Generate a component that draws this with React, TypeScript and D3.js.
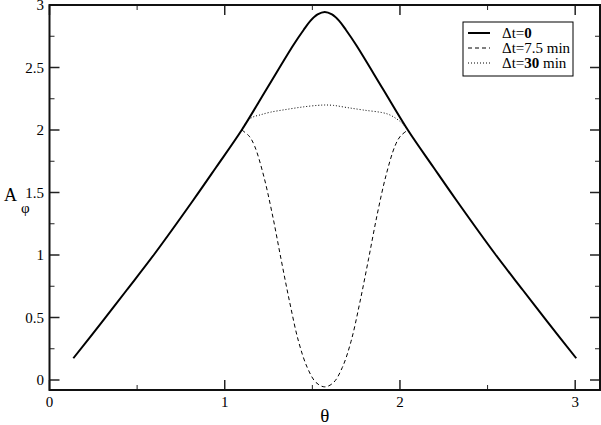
import React from "react";
import * as d3 from "d3";

const thetaSolid = [0.136, 0.3, 0.441, 0.6, 0.821, 0.95, 1.097, 1.24, 1.392, 1.45, 1.49, 1.53, 1.571, 1.612, 1.652, 1.692, 1.75, 1.902, 2.045, 2.192, 2.321, 2.542, 2.701, 2.842, 3.006];
const aSolid = [0.174, 0.465, 0.72, 1.01, 1.44, 1.7, 2.0, 2.33, 2.68, 2.8, 2.875, 2.925, 2.945, 2.925, 2.875, 2.8, 2.68, 2.33, 2.0, 1.7, 1.44, 1.01, 0.72, 0.465, 0.174];

const thetaDashed = [1.097, 1.14, 1.171, 1.221, 1.271, 1.321, 1.371, 1.421, 1.471, 1.521, 1.571, 1.621, 1.671, 1.721, 1.771, 1.821, 1.871, 1.921, 1.971, 2.002, 2.045];
const aDashed = [2.0, 1.95, 1.87, 1.64, 1.33, 0.97, 0.62, 0.31, 0.1, -0.02, -0.055, -0.02, 0.1, 0.31, 0.62, 0.97, 1.33, 1.64, 1.87, 1.95, 2.0];

const thetaDotted = [1.097, 1.126, 1.163, 1.2, 1.259, 1.354, 1.449, 1.53, 1.571, 1.62, 1.696, 1.79, 1.925, 1.98, 2.015, 2.045];
const aDotted = [2.0, 2.07, 2.105, 2.12, 2.142, 2.165, 2.185, 2.197, 2.2, 2.197, 2.18, 2.16, 2.13, 2.09, 2.05, 2.0];

const xMajor = [0, 1, 2, 3];
const xMinor = [0.5, 1.5, 2.5];
const yMajor = [0, 0.5, 1, 1.5, 2, 2.5, 3];
const yMinor = [0.25, 0.75, 1.25, 1.75, 2.25, 2.75];

const legendLabels = [
  { pre: "\u0394t=", bold: "0", post: "", dash: "none", w: 2 },
  { pre: "\u0394t=7.5 min", bold: "", post: "", dash: "4,3", w: 1 },
  { pre: "\u0394t=", bold: "30", post: " min", dash: "1,2", w: 1 },
];

export default function App() {
  const W = 601, H = 425;
  const left = 49.5, right = 600, top = 5, bottom = 390;
  const x = d3.scaleLinear().domain([0, Math.PI]).range([left, right]);
  const y = d3.scaleLinear().domain([-0.08, 3]).range([bottom, top]);
  const line = d3
    .line<[number, number]>()
    .x((d) => x(d[0]))
    .y((d) => y(d[1]))
    .curve(d3.curveCatmullRom.alpha(0.5));
  const solid = line(thetaSolid.map((t, i) => [t, aSolid[i]]));
  const dashed = line(thetaDashed.map((t, i) => [t, aDashed[i]]));
  const dotted = line(thetaDotted.map((t, i) => [t, aDotted[i]]));
  const font = '"Liberation Serif", "Times New Roman", serif';
  const tickColor = "#222";
  return (
    <svg width={W} height={H} style={{ position: "fixed", left: 0, top: 0, fontFamily: font }}>
      <rect width={W} height={H} fill="white" />
      {/* curves */}
      <path d={solid || ""} fill="none" stroke="black" strokeWidth={2} />
      <path d={dashed || ""} fill="none" stroke="black" strokeWidth={1} strokeDasharray="4,3" />
      <path d={dotted || ""} fill="none" stroke="black" strokeWidth={1} strokeDasharray="1,2" />
      {/* ticks */}
      {xMajor.map((v) => (
        <g key={"xM" + v}>
          <line x1={x(v)} x2={x(v)} y1={bottom} y2={bottom - 10} stroke={tickColor} strokeWidth={1.5} />
          <line x1={x(v)} x2={x(v)} y1={top} y2={top + 10} stroke={tickColor} strokeWidth={1.5} />
          <text x={x(v)} y={407} fontSize={15} textAnchor="middle" style={{ fontFamily: font }}>{v}</text>
        </g>
      ))}
      {xMinor.map((v) => (
        <g key={"xm" + v}>
          <line x1={x(v)} x2={x(v)} y1={bottom} y2={bottom - 5} stroke={tickColor} strokeWidth={1} />
          <line x1={x(v)} x2={x(v)} y1={top} y2={top + 5} stroke={tickColor} strokeWidth={1} />
        </g>
      ))}
      {yMajor.map((v) => (
        <g key={"yM" + v}>
          <line x1={left} x2={left + 10} y1={y(v)} y2={y(v)} stroke={tickColor} strokeWidth={1.5} />
          <line x1={right} x2={right - 10} y1={y(v)} y2={y(v)} stroke={tickColor} strokeWidth={1.5} />
          <text x={44} y={y(v) + 5} fontSize={15} textAnchor="end" style={{ fontFamily: font }}>{v}</text>
        </g>
      ))}
      {yMinor.map((v) => (
        <g key={"ym" + v}>
          <line x1={left} x2={left + 5} y1={y(v)} y2={y(v)} stroke={tickColor} strokeWidth={1} />
          <line x1={right} x2={right - 5} y1={y(v)} y2={y(v)} stroke={tickColor} strokeWidth={1} />
        </g>
      ))}
      {/* frame */}
      <rect x={left} y={top} width={right - left} height={bottom - top} fill="none" stroke="#111" strokeWidth={2} />
      {/* axis titles */}
      <text x={(left + right) / 2} y={422} fontSize={19} textAnchor="middle" style={{ fontFamily: font }}>{"\u03b8"}</text>
      <text x={4} y={201} fontSize={18} style={{ fontFamily: font }}>A</text>
      <text x={21} y={213} fontSize={15} style={{ fontFamily: font }}>{"\u03c6"}</text>
      {/* legend */}
      <rect x={463} y={22} width={110} height={54} fill="white" stroke="black" strokeWidth={1} />
      {legendLabels.map((l, i) => {
        const ly = 33 + i * 15;
        return (
          <g key={"lg" + i}>
            <line x1={468} x2={490} y1={ly} y2={ly} stroke="black" strokeWidth={l.w} strokeDasharray={l.dash === "none" ? undefined : l.dash} />
            <text x={502} y={ly + 5} fontSize={15} style={{ fontFamily: font }}>
              {l.pre}
              {l.bold ? <tspan fontWeight="bold">{l.bold}</tspan> : null}
              {l.post}
            </text>
          </g>
        );
      })}
    </svg>
  );
}
